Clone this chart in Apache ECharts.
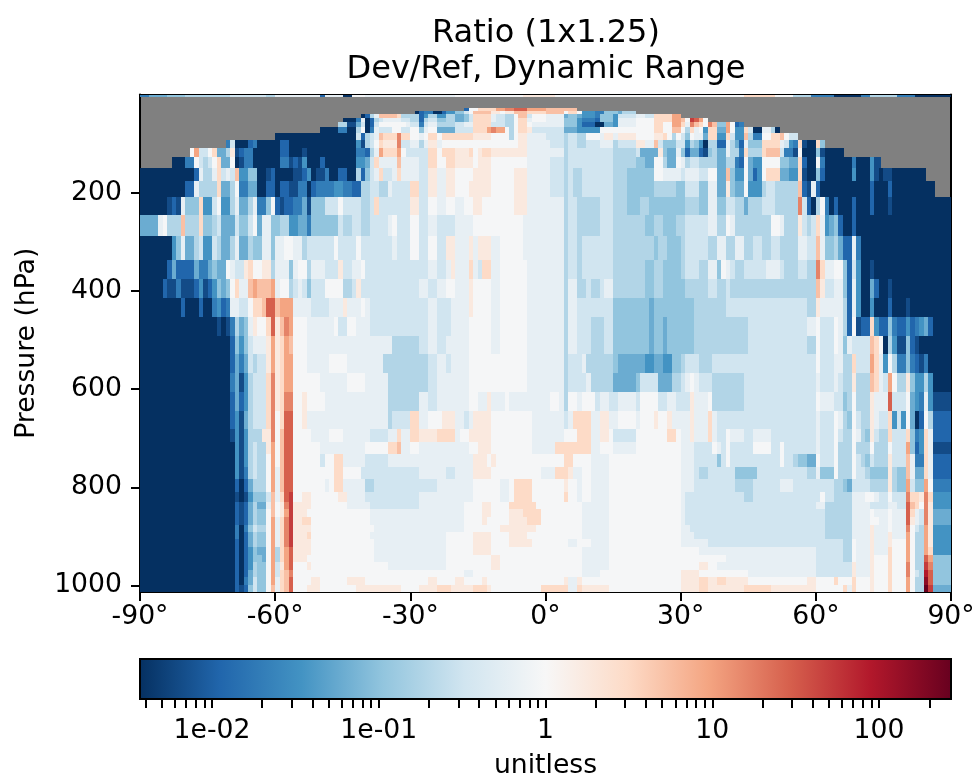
<!DOCTYPE html>
<html><head><meta charset="utf-8">
<style>html,body{margin:0;padding:0;background:#fff}#c{width:976px;height:779px}</style>
<script src="https://cdn.jsdelivr.net/npm/echarts@6/dist/echarts.min.js"></script>
</head><body><div id="c"></div>
<script>
const titleLines = ['Ratio (1x1.25)', 'Dev/Ref, Dynamic Range'];
const latitudeTicks = [-90, -60, -30, 0, 30, 60, 90];
const pressureTicks = [200, 400, 600, 800, 1000];
const colorStops = ['#053061','#2166ac','#4393c3','#92c5de','#d1e5f0','#f7f7f7','#fddbc7','#f4a582','#d6604d','#b2182b','#67001f'];
const ratioCodes = 'abcdefghijklmnopqrstu';
const ratioValues = [0.0037,0.0065,0.0114,0.0199,0.0348,0.061,0.1067,0.1866,0.3266,0.62,0.93,1.75,3.06,5.36,9.38,16.4,28.7,50.2,87.9,154,270];
const colorbarMajor = [0.01, 0.1, 1, 10, 100];
const colorbarLabels = ['1e-02', '1e-01', '1', '10', '100'];
const colorbarTicks = [0.004,0.005,0.006,0.007,0.008,0.009,0.01,0.02,0.03,0.04,0.05,0.06,0.07,0.08,0.09,0.1,0.2,0.3,0.4,0.5,0.6,0.7,0.8,0.9,1,2,3,4,5,6,7,8,9,10,20,30,40,50,60,70,80,90,100,200];
const colorRange = [0.0037, 270];
// top and bottom pressure of each model layer, hPa
const layerEdges = [0,5,28.4,33.8,40.2,47.6,56.4,66.6,78.5,92.4,108.7,127.8,150.4,176.9,208.2,244.9,288.1,337.5,376,414.5,452.8,491,529.3,567.5,605.7,643.9,682.1,707.6,733.1,758.6,784.1,809.5,829.9,845.2,860.5,875.8,891.1,906.3,921.6,936.9,952.2,967.5,982.8,998.1,1013.25];
// per layer: run of ratio code + latitude where the run ends; "." is no data
const layerRuns = [
"d-88 f-84 g-80 h-70 i-62 h-60 j-50 c-49 j-45 a-43 k-40 j-20 k-5 l2 k44 m51 k55 h59 d64 a70 d72 h78 d82 a90",
".5 .6",
".-18 c-17 k-15 m-11 o-9 p-7 q-4 o0 n7",
".-29 a-28 c-27 d-25 a-23 c-22 e-20 g-18 i-17 k-16 n-12 l-10 k-9 l-7 n-4 m0 n4 k5 m7 k8 e11 d13 g16 f17 h20",
".-41 a-40 c-39 h-38 j-37 n-33 m-32 h-28 c-27 e-26 h-24 e-22 h-20 f-18 g-17 i-16 m-12 j-11 i-9 h-7 k-6 n-4 i-3 k0 j4 f5 g7 f8 e11 d12 g15 e16 i20 j22 i24 m28 o30",
".-45 a-42 d-41 j-40 a-39 c-38 h-37 i-36 j-32 i-30 h-28 c-27 h-26 i-24 g-22 h-20 f-18 g-17 i-16 m-12 j-11 i-9 h-7 k-6 m-4 j-3 k0 j4 g7 e8 d11 c12 g15 e16 j20 k24 m28 o30 n31 k32 r33 q34 o35 k36",
".-46 h-44 b-42 f-41 i-40 a-39 c-38 i-37 k-31 j-30 i-28 d-27 i-26 j-24 h-20 i-18 j-16 m-12 i-9 h-7 k-6 m-4 k-3 j4 g7 e8 c11 a13 f15 e16 j20 k24 m26 k28 o30 m31 j32 p33 n34 m35 k36 p37 n38 g40 o41 k42 c43 d44",
".-50 a-46 d-44 a-42 h-41 k-40 a-39 d-38 j-37 i-34 k-32 i-30 k-28 g-27 j-26 k-24 f-20 i-16 m-13 o-12 p-11 o-9 k-8 h-7 k-6 m-4 l-3 i4 f7 e12 k24 m26 k28 n30 k31 h32 m33 j34 k35 e36 m38 f40 o41 k42 e44 m45 i46 a48 j50 h51 a52",
".-60 a-42 i-41 c-40 h-39 i-38 j-37 n-36 m-33 p-32 m-30 k-28 j-27 k-26 m-24 k-23 m-16 l-12 k-8 h-7 k-6 l-4 j0 i4 h5 i7 h9 k12 j13 l15 j16 l20 k24 l26 m27 k28 h29 k30 i31 g32 k33 j35 f36 m38 e40 m41 i42 e44 n45 h46 d48 k50 m52 n53 k54 i56",
".-71 d-70 i-69 a-66 c-65 d-64 a-59 c-57 a-42 e-41 b-40 h-39 i-38 k-37 m-36 l-33 p-32 i-30 j-28 h-27 j-26 l-24 j-23 k-6 l-4 j1 i4 h5 i7 h9 i12 j15 h16 i20 l22 j24 n25 i26 g29 i31 e32 h33 g34 e35 a36 h38 c40 j41 h42 f43 c44 j45 g48 m52 j53 i54 e55 d56 m57 b58 a60 m61 g62",
".-79 k-78 o-77 i-75 k-74 m-73 f-71 h-70 l-69 b-68 c-67 d-65 a-59 c-57 a-54 b-53 a-42 d-40 c-39 h-38 j-37 o-36 m-33 o-32 k-31 i-26 m-24 k-23 m-20 l-17 m-16 k-15 l-14 m-12 l-4 j1 j4 h5 i15 h20 i21 f25 l26 g27 f29 j30 g31 c32 f34 c35 b36 g37 h38 f40 j41 h43 d44 m45 h48 m49 n52 i53 d55 b56 k57 a60 g61 b62 a66.3",
".-83 a-80 d-78 k-77 i-76 h-75 i-74 k-73 m-72 f-70 k-69 a-68 b-67 d-65 a-59 d-57 b-56 c-55 b-54 e-53 a-50 c-49 a-42 e-40 f-39 i-38 m-37 j-33 n-32 j-28 i-26 m-24 k-22 m-20 l-16 k-15 l-12 k-4 j1 i4 h5 i15 h20 g22 f24 k26 h27 f29 k30 j31 h32 i34 h38 f40 h42 d43 c44 k45 f46 e48 k52 g54 f56 m57 c58 a60 k61 d62 a68 d69 a72 e73 b74.4",
"a-78 c-77 j-76 h-74 j-73 m-72 i-71 j-70 i-69 n-68 e-66 g-64 a-62 b-61 c-60 a-56 b-54 c-53 e-52 a-51 b-49 d-48 a-46 c-44 a-42 h-41 c-40 g-39 i-38 j-37 m-36 i-34 j-33 m-32 j-28 i-26 l-24 j-22 l-20 k-16 l-12 k-7 l-4 j1 i4 h5 i6 h8 i15 h18 g24 k26 j30 i31 j34 i36 k38 f40 n41 g42 e44 k45 f46 c47 e48 k49 m52 f54 e56 m57 b58 a60 g61 c62 a68 e69 a72 e73 b74 a75 b77 a84.5",
"a-80 c-78 j-77 h-73 m-72 f-70 h-69 k-68 d-66 f-64 a-62 c-60 a-59 c-57 b-55 d-53 a-52 c-51 d-47 e-45 d-43 c-41 h-39 i-37 h-35 j-34 i-30 m-28 i-26 l-24 j-22 l-20 k-17 l-12 k-7 l-4 j1 i4 h5 i6 h8 i15 h18 g24 h29 g31 i34 g36 j38 f40 l41 g42 f44 k45 e48 h49 i51 h56 n57 c58 b59 j60 c61 a72 c73 a76 c77 a86.5",
"a-84 b-83 c-82 b-81 j-80 g-77 m-76 e-74 i-73 k-72 e-70 h-69 j-68 f-66 h-65 j-64 d-62 g-61 k-60 c-59 b-58 c-56 d-54 f-53 b-52 g-49 i-46 k-45 i-41 h-39 i-38 m-37 i-30 l-28 i-26 k-24 j-22 k-20 j-18 k-16 l-14 k-7 l-4 j4 h5 i7 h12 i15 h18 g21 h23 g31 h34 g36 j38 g40 i42 h44 f45 h48 i51 h56 p57 i58 c59 a60 h61 k62 d63 a64 c65 a68 c69 a72 c73 a76 b77 a90",
"f-86 j-85 k-84 h-81 n-80 h-77 m-76 g-74 h-73 i-72 f-69 i-68 g-66 i-65 k-64 f-63 j-61 g-59 h-57 e-55 f-53 d-52 g-46 i-45 h-43 i-41 h-39 i-35 j-34 k-33 i-30 k-28 i-26 j-24 i-20 j-16 k-5 j4 h5 i7 h12 i15 h22 g24 h26 g29 h31 i36 j38 h40 k41 j42 h50 k52 j53 h56 l57 i58 h59 i60 m61 j62 e63 f64 g65 c66 a68 c69 a90",
"a-83 e-82 g-81 j-80 f-78 h-77 i-76 e-74 i-73 h-72 f-70 h-69 j-68 f-66 h-65 g-63 j-61 g-60 j-58 k-56 j-54 h-53 i-47 k-46 i-42 k-41 i-34 j-33 i-30 k-28 i-26 k-24 i-22 l-20 j-17 l-16 j-15 l-12 j-10 k-5 j4 h5 i7 h8 i15 h24 g25 h27 g30 h31 i36 h38 j40 h42 j44 h46 i48 h50 i52 h56 j58 i60 n61 j62 g64 h65 f66 c68 j69 d70 a90",
"a-84 c-83 f-82 c-78 f-77 d-75 f-74 g-73 f-71 k-70 j-69 i-67 l-66 m-65 k-63 l-61 h-60 j-57 g-56 j-55 k-53 h-52 j-49 i-46 l-45 i-43 j-41 k-40 i-26 j-24 i-22 j-21 l-20 j-17 m-16 j-15 i-14 m-12 j-10 k-4 j4 h5 i7 h8 i15 h22 g24 h26 g30 h31 i34 h36 j38 g39 k40 j41 i42 h44 i49 j52 i53 h56 i58 h60 p61 m62 j64 k66 g67 c68 i69 e70 a72 b73 a90",
"a-85 c-84 b-82 d-81 b-78 c-77 e-76 b-75 c-74 e-73 g-72 f-71 g-70 k-69 m-68 j-66 n-65 o-64 n-61 o-60 j-59 k-57 h-56 i-55 j-54 i-53 g-52 i-49 k-45 h-43 i-42 l-41 i-28 j-26 i-24 j-22 k-20 j-17 l-16 k-12 j-10 k-4 j4 h5 j7 h9 i10 h12 i13 j15 h22 g24 h26 g31 h36 i38 h40 i41 h60 n61 l62 i64 j66 g67 c68 j69 e70 a72 f73 c74 a76 b77 a90",
"a-81 c-80 a-77 c-76 a-74 d-73 e-72 c-71 d-70 j-68 i-66 k-65 m-63 n-62 q-60 n-59 o-56 j-52 i-48 j-45 l-44 j-41 k-40 j-39 i-26 j-24 i-21 j-17 l-16 k-12 j-10 k-4 j4 h5 j7 i15 g23 f24 g33 h40 i58 h60 l61 j66 h67 c68 j69 e70 a72 e73 a76 c77 a80 b81 a90",
"a-73 b-72 a-71 b-70 d-69 h-68 f-67 g-66 j-65 l-64 k-62 m-61 q-60 l-59 n-58 p-57 o-56 k-53 j-47 k-46 i-44 k-42 j-39 i-26 j-24 i-21 j-17 k-12 j-10 k-4 j4 h5 j7 i10 h13 i15 g23 f24 g26 f27 g33 h45 i58 j60 k61 i64 k65 j66 h67 c68 k69 b70 c72 m73 e74 c76 g77 d78 c80 e81 c82 d83 e84 f85 c86 a90",
"a-70 c-69 g-68 e-67 g-66 i-65 j-62 l-61 o-60 l-59 m-58 o-57 n-56 k-53 j-34 h-28 i-26 j-24 i-22 j-17 k-12 j-10 k-4 j4 h5 j7 i10 h13 i15 g23 f24 g26 f27 g33 h45 i58 h60 k61 i64 k65 j66 g67 j68 i72 n73 m74 k75 a76 h77 e78 b80 g81 c82 b83 a90",
"a-70 c-69 f-68 d-67 f-66 i-65 h-64 i-62 l-61 o-60 l-59 m-58 o-56 k-53 j-48 k-44 j-36 h-26 i-24 j-22 i-21 j-17 k-4 j4 h5 i8 j9 h15 g16 f22 e24 f26 e28 g30 h31 i34 h37 i60 k61 i64 j66 h68 m69 i72 o73 m74 j75 e76 k77 h78 d80 g81 d82 c83 b84 d85 a90",
"a-70 d-69 f-68 b-67 e-66 h-65 i-62 m-61 p-60 l-59 m-58 o-56 k-50 j-44 k-40 j-35 h-26 i-24 j-17 k-4 j4 h5 i9 j10 h15 f20 g21 i25 f28 h30 i31 j32 k33 j34 i37 h44 i60 j61 i64 j65 i66 h68 l69 h72 n73 m74 j75 i76 o77 k78 h80 l81 g82 e84 h85 e86 a90",
"a-70 c-69 f-68 c-67 e-66 h-65 i-62 m-61 p-60 l-59 m-58 p-56 k-54 l-53 k-49 j-35 h-28 j-26 i-24 j-17 k-15 j-13 l-12 j-9 k-8 j1 k3 j4 h5 k7 j8 k11 i12 j14 i16 j20 i21 k25 i27 j29 i32 l33 j36 k37 h44 i60 k61 j64 i66 g67 h68 k69 h72 l73 j76 q77 i80 k81 f82 e83 d84 j85 e86 b90",
"a-70 c-69 e-68 b-67 f-66 h-65 i-62 m-61 p-60 k-59 m-58 q-56 k-54 l-53 j-35 h-34 i-30 m-28 j-26 k-23 l-20 j-18 i-17 j-16 l-12 k-3 j4 i5 j6 m10 j12 l14 j16 k20 j21 k24 l25 k27 l28 j32 l33 j36 m37 j38 i60 j61 i64 k65 j66 h67 g68 k69 i70 h72 l73 j74 i76 m77 e78 i79 e80 k81 f82 a83 c84 k85 h86 c90",
"a-70 b-69 e-68 b-67 e-66 h-63 l-61 p-60 k-59 n-58 q-56 k-52 j-48 k-45 j-39 i-35 j-33 m-32 j-30 m-28 l-24 m-20 j-19 k-17 l-12 k-3 j4 k7 m10 j12 l14 k15 i20 k27 m29 k30 j32 l33 j36 m37 j38 i40 k41 j44 i46 j50 i60 j61 i64 k65 i66 h68 k69 j70 h71 g72 l73 i74 h76 m77 i80 m81 g82 d83 e84 m85 j86 c90",
"a-69 e-68 b-67 e-66 h-65 i-64 h-62 l-61 o-60 k-59 n-58 q-56 k-50 j-40 k-35 m-33 n-32 j-30 k-28 j-17 k-15 l-12 k-3 j2 m10 j12 k15 j20 k30 j33 i37 k38 j39 i40 k41 i46 k50 i52 k53 i60 j61 i64 k65 h68 k69 h72 k73 h76 k77 i80 o81 g82 c83 e84 m85 j86 b90",
"a-69 e-68 b-67 e-66 h-65 i-64 h-62 k-61 o-60 k-59 n-58 q-56 k-50 i-49 k-47 m-45 j-40 i-35 j-16 l-13 k-12 l-11 k4 m6 k10 j14 k30 j33 i38 g39 i40 k41 i52 k53 i55 h56 g58 f60 k61 i64 k65 h68 k69 i70 h71 g72 i73 h76 l77 i80 n81 j82 d84 m85 j86 c90",
"a-69 e-68 b-67 d-66 h-65 i-64 h-62 k-61 o-60 j-59 n-58 q-56 k-47 m-45 k-41 i-28 j-22 i-20 j-16 l-12 k-1 j2 m5 l6 j8 k10 j14 k30 j33 i34 h36 i42 g47 i58 h60 j61 g64 k65 h68 k69 i71 h72 g76 l77 h78 g80 n81 j82 f84 m85 j86 c90",
"a-69 c-68 a-67 c-66 f-65 h-62 k-61 o-60 j-59 n-58 q-56 k-49 j-48 k-47 m-45 j-40 h-38 i-24 j-16 k-10 j-8 k-7 m-3 k4 l5 k7 j8 k10 j14 k30 j33 i42 h46 i52 j55 i64 h66 g67 f68 i72 h76 l77 h78 g80 o81 i82 g84 o85 k86 d90",
"a-69 b-68 a-67 b-66 e-65 g-62 i-61 n-60 j-59 m-58 q-57 r-56 k-54 l-52 k-46 l-44 j-40 i-28 j-16 k-10 j-8 k-7 m-3 k4 m5 k7 j8 k10 j14 k30 j31 i44 h46 i61 k62 i64 h68 j71 k73 j74 i76 k77 i80 p81 m83 l84 p85 m86 e90",
"a-69 c-68 b-67 c-66 f-65 h-64 f-62 j-61 n-60 k-59 l-58 p-57 r-56 l-52 k-44 j-39 i-28 j-18 k-14 l-12 k-8 m-2 k8 j14 k30 j31 i60 j62 h68 j72 i76 j78 i80 q81 n82 m83 k84 p85 l86 e90",
"a-69 c-68 b-67 c-66 f-65 h-64 g-62 k-61 n-60 k-59 l-58 o-57 r-56 l-53 k-39 j-18 k-14 l-12 k-8 l-5 m-1 k8 j14 k30 j31 i62 h68 j72 k73 j76 k77 j80 q81 m82 j83 i84 p85 l86 f90",
"a-69 c-68 b-67 c-66 f-65 h-64 g-62 k-61 o-60 j-59 m-58 p-57 r-56 l-54 m-52 k-39 j-18 k-14 l-13 k-8 l-4 m-1 k8 j14 k30 j31 i62 h68 j72 k74 j76 k77 j80 q81 l82 j83 i84 p85 l86 f90",
"a-69 d-68 a-67 d-66 g-65 i-64 h-62 k-61 o-60 j-59 m-58 p-57 r-56 l-52 k-38 j-18 k-10 l-2 k8 j14 k30 j32 i62 h68 j72 l73 j76 k77 j80 p81 k82 i83 h84 o85 l86 e90",
"a-69 d-68 a-67 c-66 f-65 h-64 g-62 k-61 o-60 j-59 m-58 p-57 r-56 l-53 m-52 k-39 j-22 k-16 l-12 k-8 l-4 k8 j14 k30 j33 i62 h68 j72 l73 j76 l77 j80 o81 k82 h84 o85 l86 e90",
"a-69 c-68 a-67 c-66 f-65 h-64 g-62 k-61 o-60 j-59 m-58 p-57 r-56 l-52 k-38 j-22 k-16 l-12 k-8 l-3 k5 j7 k10 j14 k30 j36 i66 h68 k69 j72 l73 j76 l77 k80 o81 k82 h84 o85 l86 e90",
"a-69 c-68 a-67 c-66 e-65 g-64 f-62 k-61 o-60 h-59 m-58 o-57 q-56 l-52 k-38 j-22 k-16 l-12 k8 j14 k30 k34 j60 i66 h68 k69 j72 l73 j76 m77 k80 o81 k82 h84 o85 m86 e90",
"a-69 c-68 a-67 c-66 e-65 g-63 f-62 k-61 o-60 h-59 m-58 o-57 q-56 l-53 k-38 j-22 k-12 l-10 k8 j14 k40 j60 i66 h68 k69 j72 l73 k76 m77 k80 o81 k82 h84 q85 o86 g90",
"a-69 c-68 a-67 c-66 e-65 h-64 g-62 k-61 o-60 i-59 l-58 o-57 q-56 k-53 l-52 k-35 j-22 k-12 l-10 k8 j14 k34 l36 k38 j60 i68 l69 j72 l73 k76 m77 k80 p81 k82 h84 r85 p86 g90",
"a-69 c-68 a-67 c-66 f-65 h-64 g-62 k-61 o-60 i-59 m-58 n-57 p-56 k-18 j-16 k8 j12 k30 l34 k45 j60 i68 l69 j72 l73 k76 m77 k80 p81 k82 i83 h84 s85 q86 g90",
"a-69 c-68 a-67 d-66 f-65 i-64 g-62 k-61 o-60 j-59 m-58 n-57 q-56 k-52 l-50 k-44 l-40 k-26 l-24 k-20 l-18 k-14 l-13 k4 l5 j7 l8 k30 l34 m36 l38 m40 l45 k58 l60 k64 m65 k68 m69 k72 l73 k76 m77 k80 o81 k82 h84 t85 q86 g90",
"a-69 c-68 b-67 c-66 g-65 i-64 g-62 k-61 n-60 j-59 m-58 n-57 q-56 k-53 l-50 k-42 l-32 k-28 l-24 m-21 l-16 m-13 l-12 k-1 m5 j7 m8 l14 k30 l34 m36 l44 m50 l60 k66 m67 j68 m69 k72 l73 k76 m77 k80 o81 k82 h84 u85 r86 f90"
];

const cells = [];
layerRuns.forEach((row, i) => {
  let start = -90;
  row.split(' ').forEach(tok => {
    const end = parseFloat(tok.slice(1));
    if (end <= start) return;
    if (tok[0] !== '.') {
      const ratio = ratioValues[ratioCodes.indexOf(tok[0])];
      cells.push([start, end, layerEdges[i], layerEdges[i + 1], Math.log10(ratio)]);
    }
    start = end;
  });
});
const logMin = Math.log10(colorRange[0]), logMax = Math.log10(colorRange[1]);
const FONT = 'DejaVu Sans';
const LABEL = 26.67;
const chart = echarts.init(document.getElementById('c'), null, {renderer: 'canvas'});
const blackLine = {show: true, onZero: false, lineStyle: {color: '#000', width: 2}};
const tickStyle = {show: true, length: 9, lineStyle: {color: '#000', width: 2}};
chart.setOption({
  animation: false,
  backgroundColor: '#fff',
  textStyle: {fontFamily: FONT},
  title: {
    text: titleLines.join('\n'), left: 541, top: 11, textAlign: 'center',
    textStyle: {fontFamily: FONT, fontSize: 32, fontWeight: 'normal', color: '#000', lineHeight: 36}
  },
  grid: [
    {left: 140, right: 25, top: 94.5, height: 497.5, show: true, backgroundColor: '#808080', borderWidth: 0, outerBoundsMode: 'none'},
    {left: 140, right: 25, top: 659, height: 40, outerBoundsMode: 'none'}
  ],
  visualMap: {show: false, type: 'continuous', seriesIndex: 0, dimension: 4, min: logMin, max: logMax, inRange: {color: colorStops}},
  xAxis: [
    {type: 'value', gridIndex: 0, min: -90, max: 90, position: 'bottom', splitLine: {show: false},
      axisLine: blackLine, axisTick: Object.assign({}, tickStyle, {customValues: latitudeTicks}),
      axisLabel: {fontFamily: FONT, fontSize: LABEL, color: '#000', margin: 12, customValues: latitudeTicks, formatter: v => v + '°'}},
    {type: 'value', gridIndex: 0, min: -90, max: 90, position: 'top', splitLine: {show: false},
      axisLine: blackLine, axisTick: {show: false}, axisLabel: {show: false}},
    {type: 'value', gridIndex: 1, min: logMin, max: logMax, position: 'bottom', splitLine: {show: false},
      axisLine: {show: false},
      axisTick: {show: true, length: 9, lineStyle: {color: '#000', width: 2}, customValues: colorbarTicks.map(Math.log10)},
      axisLabel: {fontFamily: FONT, fontSize: LABEL, color: '#000', margin: 19, customValues: colorbarMajor.map(Math.log10),
        formatter: v => colorbarLabels[colorbarMajor.findIndex(m => Math.abs(Math.log10(m) - v) < 1e-6)]},
      name: 'unitless', nameLocation: 'middle', nameGap: 54, nameTextStyle: {fontFamily: FONT, fontSize: LABEL, color: '#000'}}
  ],
  yAxis: [
    {type: 'value', gridIndex: 0, inverse: true, min: 0, max: 1013.25, position: 'left', splitLine: {show: false},
      axisLine: blackLine, axisTick: Object.assign({}, tickStyle, {customValues: pressureTicks}),
      axisLabel: {fontFamily: FONT, fontSize: LABEL, color: '#000', margin: 18, customValues: pressureTicks, formatter: v => String(v)},
      name: 'Pressure (hPa)', nameLocation: 'middle', nameGap: 99, nameTextStyle: {fontFamily: FONT, fontSize: LABEL, color: '#000'}},
    {type: 'value', gridIndex: 0, inverse: true, min: 0, max: 1013.25, position: 'right', splitLine: {show: false},
      axisLine: blackLine, axisTick: {show: false}, axisLabel: {show: false}},
    {type: 'value', gridIndex: 1, min: 0, max: 1, show: false}
  ],
  series: [
    {type: 'custom', xAxisIndex: 0, yAxisIndex: 0, data: cells, clip: true, silent: true, progressive: 0,
      encode: {x: [0, 1], y: [2, 3]},
      renderItem: (params, api) => {
        const a = api.coord([api.value(0), api.value(2)]);
        const b = api.coord([api.value(1), api.value(3)]);
        const x0 = Math.round(a[0]), x1 = Math.round(b[0]), y0 = Math.round(a[1]), y1 = Math.round(b[1]);
        return {type: 'rect', shape: {x: x0, y: y0, width: x1 - x0, height: y1 - y0}, style: {fill: api.visual('color')}};
      }},
    {type: 'custom', xAxisIndex: 2, yAxisIndex: 2, data: [[logMin, logMax]], silent: true, clip: false,
      encode: {x: [0, 1]},
      renderItem: (params, api) => {
        const a = api.coord([api.value(0), 1]);
        const b = api.coord([api.value(1), 0]);
        return {type: 'rect', shape: {x: a[0], y: a[1], width: b[0] - a[0], height: b[1] - a[1]},
          style: {stroke: '#000', lineWidth: 2,
            fill: new echarts.graphic.LinearGradient(0, 0, 1, 0, colorStops.map((c, i) => ({offset: i / 10, color: c})))}};
      }}
  ]
});
</script></body></html>
